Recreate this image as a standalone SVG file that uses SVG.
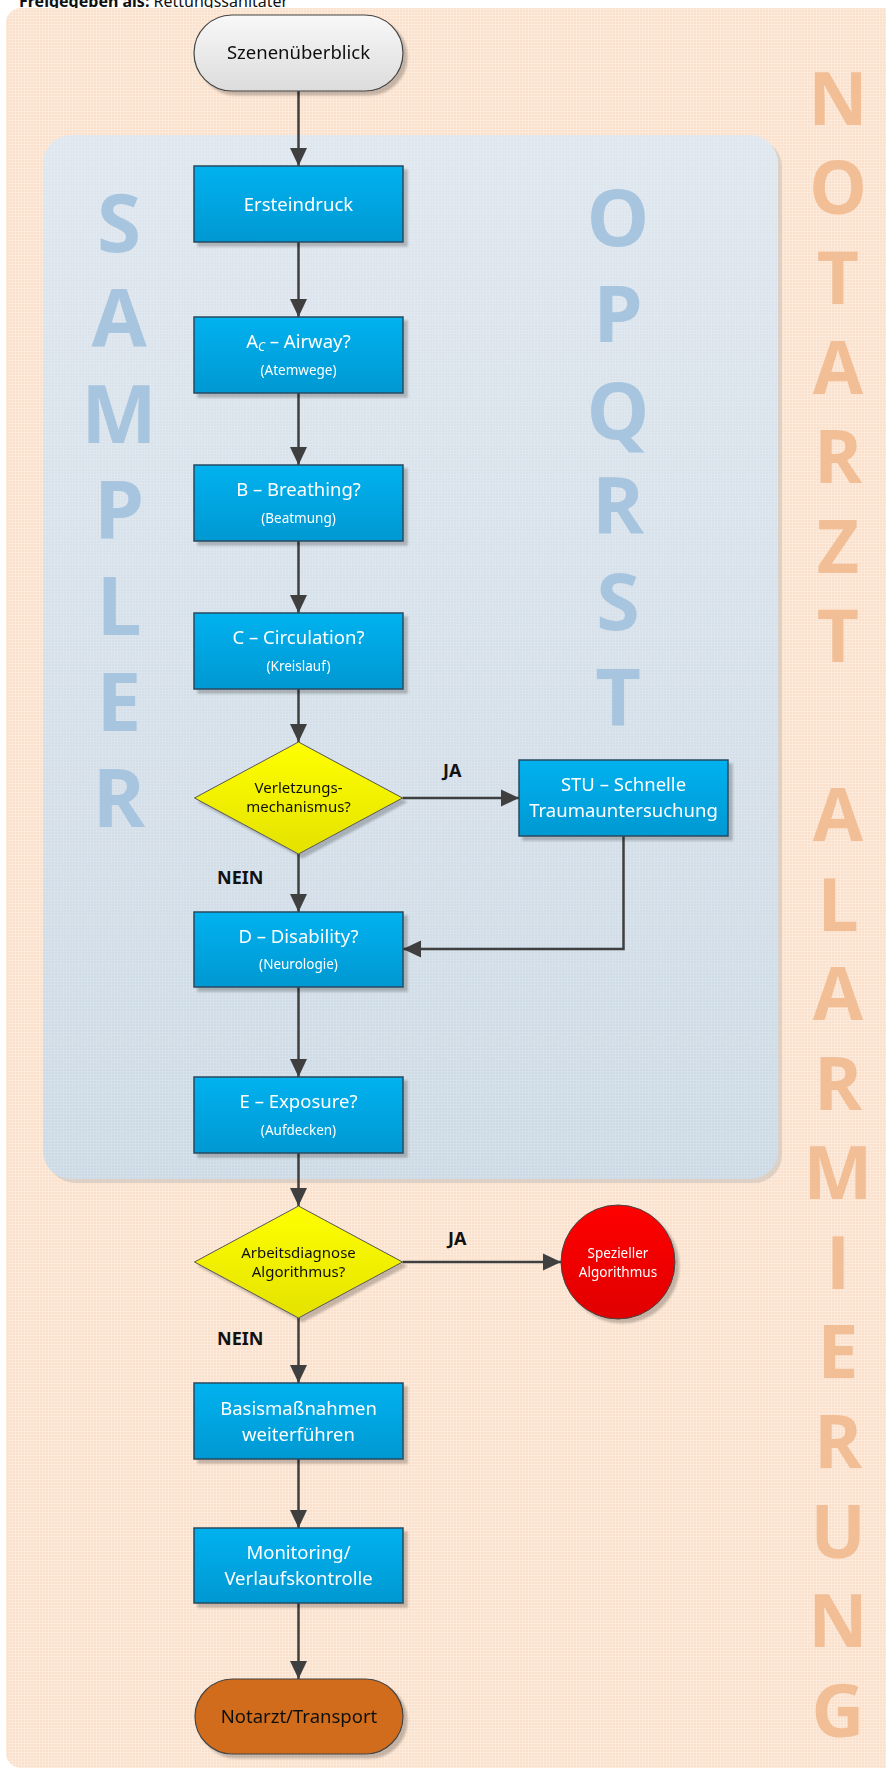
<svg xmlns="http://www.w3.org/2000/svg" width="886" height="1769" viewBox="0 0 886 1769">
<style>
.box{stroke:#264a60;stroke-width:1.5}
.t{font-family:"Noto Sans","Open Sans",sans-serif;text-anchor:middle}
.wt{fill:#ffffff;font-size:18.5px}
.ws{fill:#ffffff;font-size:13.5px}
.bk{fill:#111111}
.lbl{font-family:"Noto Sans","Open Sans",sans-serif;font-weight:bold;font-size:18px;fill:#111}
.big{font-family:"Open Sans","Noto Sans",sans-serif;font-weight:bold;text-anchor:middle}
.sam{fill:#a8c5df;font-size:80px}
.opq{fill:#a8c5df;font-size:79px}
.nal{fill:#f1be96;font-size:73px}
.con{fill:none;stroke:#3f3f3f;stroke-width:2.5;marker-end:url(#ah)}
</style>
<defs>
<pattern id="grid" width="3" height="3" patternUnits="userSpaceOnUse">
<path d="M0,0.5H3M0.5,0V3" stroke="#ffffff" stroke-opacity="0.25" stroke-width="1"/>
</pattern>
<linearGradient id="gBlue" x1="0" y1="0" x2="0" y2="1"><stop offset="0" stop-color="#00b2ef"/><stop offset="1" stop-color="#0098d2"/></linearGradient>
<linearGradient id="gYel" x1="0" y1="0" x2="0" y2="1"><stop offset="0" stop-color="#ffff00"/><stop offset="1" stop-color="#e4e200"/></linearGradient>
<linearGradient id="gRed" x1="0" y1="0" x2="0" y2="1"><stop offset="0" stop-color="#ff0000"/><stop offset="1" stop-color="#e00000"/></linearGradient>
<linearGradient id="gGray" x1="0" y1="0" x2="0" y2="1"><stop offset="0" stop-color="#f8f8f8"/><stop offset="1" stop-color="#dcdcdc"/></linearGradient>
<linearGradient id="gPanel" x1="0" y1="0" x2="0" y2="1"><stop offset="0" stop-color="#dee6ee"/><stop offset="1" stop-color="#cddae5"/></linearGradient>
<filter id="sh" x="-10%" y="-10%" width="130%" height="130%"><feDropShadow dx="4" dy="4" stdDeviation="1" flood-color="#000" flood-opacity="0.22"/></filter>
<marker id="ah" markerUnits="userSpaceOnUse" markerWidth="18" markerHeight="18" refX="18" refY="9" orient="auto"><path d="M0,0.5L18,9L0,17.5z" fill="#3f3f3f"/></marker>
</defs>

<rect width="886" height="1769" fill="#ffffff"/>
<text x="19" y="7" font-family="Noto Sans, sans-serif" font-size="16px" fill="#111"><tspan font-weight="bold">Freigegeben als:</tspan> Rettungssanitäter</text>

<g id="bg-notarzt">
<rect x="6" y="8" width="895" height="1760" rx="15" fill="#fbe0cb"/>
<rect x="6" y="8" width="895" height="1760" rx="15" fill="url(#grid)"/>
</g>
<g id="bg-sampler">
<rect x="47" y="139" width="735" height="1044" rx="28" fill="#c9c3bd" opacity="0.6"/>
<rect x="43" y="135" width="735" height="1044" rx="28" fill="url(#gPanel)"/>
<rect x="43" y="135" width="735" height="1044" rx="28" fill="url(#grid)" opacity="0.5"/>
</g>

<g id="letters-sampler">
<text class="big sam"><tspan x="119" y="252">S</tspan><tspan x="119" y="347">A</tspan><tspan x="119" y="443">M</tspan><tspan x="119" y="539">P</tspan><tspan x="119" y="635">L</tspan><tspan x="119" y="731">E</tspan><tspan x="119" y="827">R</tspan></text>
</g>
<g id="letters-opqrst">
<text class="big opq"><tspan x="618" y="246">O</tspan><tspan x="618" y="342">P</tspan><tspan x="618" y="439">Q</tspan><tspan x="618" y="534">R</tspan><tspan x="618" y="630">S</tspan><tspan x="618" y="726">T</tspan></text>
</g>
<g id="letters-notarzt">
<text class="big nal"><tspan x="838" y="125">N</tspan><tspan x="838" y="214">O</tspan><tspan x="838" y="304">T</tspan><tspan x="838" y="394">A</tspan><tspan x="838" y="483">R</tspan><tspan x="838" y="573">Z</tspan><tspan x="838" y="662">T</tspan><tspan x="838" y="841">A</tspan><tspan x="838" y="931">L</tspan><tspan x="838" y="1020">A</tspan><tspan x="838" y="1110">R</tspan><tspan x="838" y="1199">M</tspan><tspan x="838" y="1289">I</tspan><tspan x="838" y="1378">E</tspan><tspan x="838" y="1468">R</tspan><tspan x="838" y="1558">U</tspan><tspan x="838" y="1647">N</tspan><tspan x="838" y="1737">G</tspan></text>
</g>

<g id="connectors">
<path class="con" d="M298.5,91V166"/>
<path class="con" d="M298.5,242V317"/>
<path class="con" d="M298.5,393V465"/>
<path class="con" d="M298.5,541V613"/>
<path class="con" d="M298.5,689V742"/>
<path class="con" d="M402.5,798H519"/>
<path class="con" d="M298.5,854V912"/>
<path class="con" d="M623.5,836V949H403"/>
<path class="con" d="M298.5,987V1077"/>
<path class="con" d="M298.5,1153V1206"/>
<path class="con" d="M402.5,1262H561"/>
<path class="con" d="M298.5,1318V1383"/>
<path class="con" d="M298.5,1459V1528"/>
<path class="con" d="M298.5,1603V1679"/>
<text class="lbl" x="443" y="777">JA</text>
<text class="lbl" x="217" y="884">NEIN</text>
<text class="lbl" x="448" y="1245">JA</text>
<text class="lbl" x="217" y="1345">NEIN</text>
</g>

<g id="n-szenen" filter="url(#sh)">
<rect x="194" y="15" width="209" height="76" rx="38" fill="url(#gGray)" stroke="#444" stroke-width="1.2"/>
<text class="t bk" x="298.5" y="59" font-size="18.5px">Szenenüberblick</text>
</g>
<g id="n-ersteindruck" filter="url(#sh)">
<rect class="box" x="194" y="166" width="209" height="76" fill="url(#gBlue)"/>
<text class="t wt" x="298.5" y="211">Ersteindruck</text>
</g>
<g id="n-airway" filter="url(#sh)">
<rect class="box" x="194" y="317" width="209" height="76" fill="url(#gBlue)"/>
<text class="t wt" x="298.5" y="348">A<tspan font-size="12px" font-style="italic" dy="3">C</tspan><tspan dy="-3"> – Airway?</tspan></text>
<text class="t ws" x="298.5" y="375">(Atemwege)</text>
</g>
<g id="n-breathing" filter="url(#sh)">
<rect class="box" x="194" y="465" width="209" height="76" fill="url(#gBlue)"/>
<text class="t wt" x="298.5" y="496">B – Breathing?</text>
<text class="t ws" x="298.5" y="523">(Beatmung)</text>
</g>
<g id="n-circulation" filter="url(#sh)">
<rect class="box" x="194" y="613" width="209" height="76" fill="url(#gBlue)"/>
<text class="t wt" x="298.5" y="644">C – Circulation?</text>
<text class="t ws" x="298.5" y="671">(Kreislauf)</text>
</g>
<g id="n-verletzung" filter="url(#sh)">
<path d="M298.5,742L402.5,798L298.5,854L194.5,798z" fill="url(#gYel)" stroke="#555" stroke-width="1"/>
<text class="t bk" x="298.5" y="793" font-size="15px">Verletzungs-</text>
<text class="t bk" x="298.5" y="812" font-size="15px">mechanismus?</text>
</g>
<g id="n-stu" filter="url(#sh)">
<rect class="box" x="519" y="760" width="209" height="76" fill="url(#gBlue)"/>
<text class="t wt" x="623.5" y="791" font-size="19px">STU – Schnelle</text>
<text class="t wt" x="623.5" y="817" font-size="19px">Traumauntersuchung</text>
</g>
<g id="n-disability" filter="url(#sh)">
<rect class="box" x="194" y="912" width="209" height="75" fill="url(#gBlue)"/>
<text class="t wt" x="298.5" y="943">D – Disability?</text>
<text class="t ws" x="298.5" y="969">(Neurologie)</text>
</g>
<g id="n-exposure" filter="url(#sh)">
<rect class="box" x="194" y="1077" width="209" height="76" fill="url(#gBlue)"/>
<text class="t wt" x="298.5" y="1108">E – Exposure?</text>
<text class="t ws" x="298.5" y="1135">(Aufdecken)</text>
</g>
<g id="n-arbeitsdiagnose" filter="url(#sh)">
<path d="M298.5,1206L402.5,1262L298.5,1318L194.5,1262z" fill="url(#gYel)" stroke="#555" stroke-width="1"/>
<text class="t bk" x="298.5" y="1258" font-size="15px">Arbeitsdiagnose</text>
<text class="t bk" x="298.5" y="1277" font-size="15px">Algorithmus?</text>
</g>
<g id="n-spezieller" filter="url(#sh)">
<circle cx="618" cy="1262" r="57" fill="url(#gRed)" stroke="#444" stroke-width="1"/>
<text class="t ws" x="618" y="1258">Spezieller</text>
<text class="t ws" x="618" y="1277">Algorithmus</text>
</g>
<g id="n-basis" filter="url(#sh)">
<rect class="box" x="194" y="1383" width="209" height="76" fill="url(#gBlue)"/>
<text class="t wt" x="298.5" y="1415">Basismaßnahmen</text>
<text class="t wt" x="298.5" y="1441">weiterführen</text>
</g>
<g id="n-monitoring" filter="url(#sh)">
<rect class="box" x="194" y="1528" width="209" height="75" fill="url(#gBlue)"/>
<text class="t wt" x="298.5" y="1559">Monitoring/</text>
<text class="t wt" x="298.5" y="1585">Verlaufskontrolle</text>
</g>
<g id="n-notarzt" filter="url(#sh)">
<rect x="195" y="1679" width="208" height="75" rx="37.5" fill="#d16c1b" stroke="#444" stroke-width="1.2"/>
<text class="t bk" x="299" y="1723" font-size="18.5px">Notarzt/Transport</text>
</g>
</svg>
